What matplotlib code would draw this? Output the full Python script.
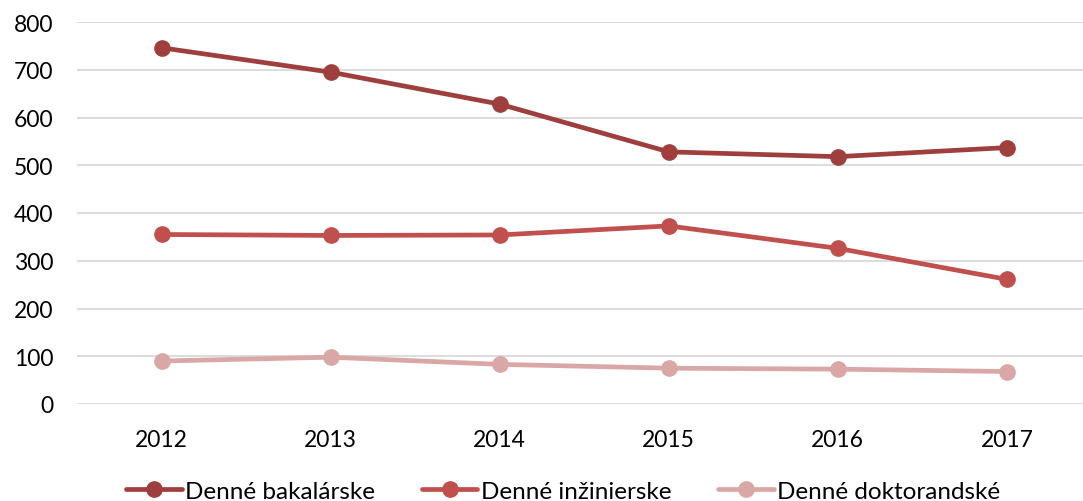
import matplotlib
matplotlib.use("Agg")
import matplotlib.pyplot as plt

plt.rcParams["font.family"] = ["Lato", "DejaVu Sans"]

years = ["2012", "2013", "2014", "2015", "2016", "2017"]
bakalarske = [746, 695, 628, 528, 518, 537]
inzinierske = [355, 353, 354, 373, 326, 261]
doktorandske = [90, 98, 83, 75, 73, 68]

series = [
    ("Denné bakalárske", bakalarske, "#9E3F3E"),
    ("Denné inžinierske", inzinierske, "#C0504D"),
    ("Denné doktorandské", doktorandske, "#D9A7A6"),
]

fig = plt.figure(figsize=(10.83, 5.02), dpi=100)
ax = fig.add_axes([77 / 1083, 1 - 405 / 502, 1006 / 1083, 382 / 502])

x = list(range(len(years)))
for label, values, color in series:
    ax.plot(x, values, color=color, lw=3.4, marker="o", ms=11,
            solid_capstyle="round", label=label)

ax.set_xlim(-0.5, 5.45)
ax.set_ylim(0, 800)
ax.set_yticks(range(0, 801, 100))
ax.set_xticks(x)
ax.set_xticklabels(years)
ax.yaxis.grid(True, color="#D9D9D9", lw=1.3)
ax.set_axisbelow(True)
for s in ax.spines.values():
    s.set_visible(False)
ax.tick_params(length=0, labelsize=16.5, colors="black")
ax.tick_params(axis="y", pad=17)
ax.tick_params(axis="x", pad=18)

fig.legend(loc="lower center", bbox_to_anchor=(0.52, -0.045), ncol=3,
           frameon=False, fontsize=17.5, handlelength=2.3, handletextpad=0.15,
           columnspacing=1.9)

fig.savefig("out.png", dpi=100)
